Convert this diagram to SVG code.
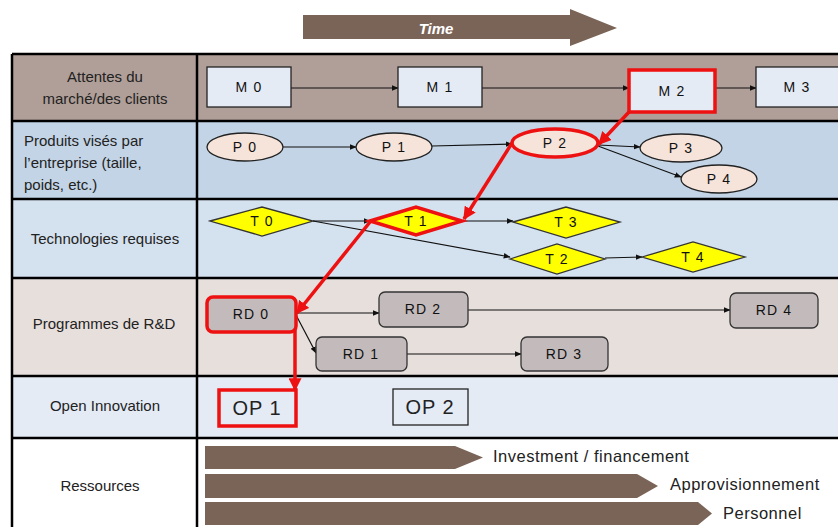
<svg xmlns="http://www.w3.org/2000/svg" width="838" height="527" viewBox="0 0 838 527">
  <defs>
    <marker id="ah" viewBox="0 0 10 10" refX="9" refY="5" markerWidth="7" markerHeight="7" orient="auto" markerUnits="userSpaceOnUse">
      <path d="M0,1 L10,5 L0,9 Z" fill="#111"/>
    </marker>
    <marker id="ahr" viewBox="0 0 10 10" refX="9" refY="5" markerWidth="13" markerHeight="13" orient="auto" markerUnits="userSpaceOnUse">
      <path d="M0,0 L10,5 L0,10 Z" fill="#ee1111"/>
    </marker>
    <style>
      .lbl { font-family: "Liberation Sans", Arial, sans-serif; font-size: 15px; fill: #222; }
      .mid { text-anchor: middle; }
      .nt { font-family: "Liberation Sans", Arial, sans-serif; font-size: 14px; fill: #111; text-anchor: middle; letter-spacing: 1.2px; }
      .grid { stroke: #000; stroke-width: 2.5; fill: none; }
      .mbox { fill: #e4ebf5; stroke: #222; stroke-width: 1.3; }
      .pell { fill: #f6e4da; stroke: #222; stroke-width: 1.3; }
      .tdia { fill: #ffff00; stroke: #333; stroke-width: 1.3; }
      .rd { fill: #c3bbbb; stroke: #333; stroke-width: 1.3; }
      .hot { stroke: #ee1111; stroke-width: 3.5; }
      .conn { stroke: #111; stroke-width: 1.2; fill: none; marker-end: url(#ah); }
      .rconn { stroke: #ee1111; stroke-width: 3.5; fill: none; marker-end: url(#ahr); }
      .res { fill: #7a6357; }
      .rtxt { font-family: "Liberation Sans", Arial, sans-serif; font-size: 16.5px; fill: #222; letter-spacing: 0.5px; }
      .op { font-family: "Liberation Sans", Arial, sans-serif; font-size: 20px; fill: #222; text-anchor: middle; letter-spacing: 1px; }
    </style>
  </defs>

  <rect width="838" height="527" fill="#ffffff"/>

  <!-- Time arrow -->
  <g id="time-arrow">
    <path d="M303,15 L570,15 L570,9 L617,28 L570,46 L570,39 L303,39 Z" fill="#7a6357"/>
    <text x="436" y="34" font-family="'Liberation Sans', Arial, sans-serif" font-size="15" font-weight="bold" font-style="italic" fill="#ffffff" text-anchor="middle">Time</text>
  </g>

  <!-- Swimlane rows -->
  <g id="lanes">
    <rect x="12" y="54" width="826" height="67" fill="#b09f98"/>
    <rect x="12" y="121" width="826" height="78" fill="#c2d4e6"/>
    <rect x="12" y="199" width="826" height="79" fill="#d4e1ee"/>
    <rect x="12" y="278" width="826" height="98" fill="#e7dfdc"/>
    <rect x="12" y="376" width="826" height="62" fill="#e4ebf5"/>
    <rect x="12" y="438" width="826" height="89" fill="#ffffff"/>
    <path class="grid" d="M12,54 H838 M12,121 H838 M12,199 H838 M12,278 H838 M12,376 H838 M12,438 H838 M12,54 V527 M197,54 V527"/>
  </g>

  <!-- Row headers -->
  <g id="row-headers">
    <text class="lbl mid" x="105" y="82">Attentes du</text>
    <text class="lbl mid" x="105" y="104">marché/des clients</text>
    <text class="lbl" x="24" y="146">Produits  visés par</text>
    <text class="lbl" x="24" y="168">l’entreprise (taille,</text>
    <text class="lbl" x="24" y="190">poids, etc.)</text>
    <text class="lbl mid" x="105" y="244">Technologies requises</text>
    <text class="lbl mid" x="104" y="329">Programmes de R&amp;D</text>
    <text class="lbl mid" x="105" y="411">Open  Innovation</text>
    <text class="lbl mid" x="100" y="491">Ressources</text>
  </g>

  <!-- Connectors -->
  <g id="connectors">
    <line class="conn" x1="291" y1="88" x2="398" y2="88"/>
    <line class="conn" x1="482" y1="88" x2="629" y2="88"/>
    <line class="conn" x1="715" y1="88" x2="756" y2="88"/>
    <line class="conn" x1="283" y1="147" x2="356" y2="147"/>
    <line class="conn" x1="432" y1="146" x2="512" y2="144"/>
    <line class="conn" x1="598" y1="145" x2="640" y2="147"/>
    <line class="conn" x1="598" y1="146" x2="681" y2="177"/>
    <line class="conn" x1="313" y1="221" x2="370" y2="221"/>
    <line class="conn" x1="462" y1="221" x2="513" y2="221"/>
    <line class="conn" x1="313" y1="221" x2="510" y2="257"/>
    <line class="conn" x1="605" y1="258" x2="642" y2="257"/>
    <line class="conn" x1="296" y1="313" x2="379" y2="313"/>
    <line class="conn" x1="296" y1="315" x2="316" y2="353"/>
    <line class="conn" x1="468" y1="310" x2="730" y2="310"/>
    <line class="conn" x1="407" y1="354" x2="521" y2="354"/>
    <!-- critical path -->
    <line class="rconn" x1="629" y1="112" x2="599" y2="144"/>
    <line class="rconn" x1="512" y1="143" x2="464" y2="219"/>
    <line class="rconn" x1="370" y1="222" x2="297" y2="313"/>
    <line class="rconn" x1="295" y1="316" x2="295" y2="390"/>
  </g>

  <!-- Market expectations -->
  <g id="M0"><rect class="mbox" x="207" y="67" width="84" height="40"/><text class="nt" x="249" y="92">M 0</text></g>
  <g id="M1"><rect class="mbox" x="398" y="67" width="84" height="40"/><text class="nt" x="440" y="92">M 1</text></g>
  <g id="M2"><rect class="mbox hot" x="629" y="70" width="86" height="42"/><text class="nt" x="672" y="96">M 2</text></g>
  <g id="M3"><rect class="mbox" x="756" y="67" width="90" height="40"/><text class="nt" x="797" y="92">M 3</text></g>

  <!-- Products -->
  <g id="P0"><ellipse class="pell" cx="245" cy="147" rx="38" ry="14"/><text class="nt" x="245" y="152">P 0</text></g>
  <g id="P1"><ellipse class="pell" cx="394" cy="147" rx="38" ry="14"/><text class="nt" x="394" y="152">P 1</text></g>
  <g id="P2"><ellipse class="pell hot" cx="555" cy="143" rx="43" ry="14"/><text class="nt" x="555" y="148">P 2</text></g>
  <g id="P3"><ellipse class="pell" cx="681" cy="148" rx="41" ry="14"/><text class="nt" x="681" y="153">P 3</text></g>
  <g id="P4"><ellipse class="pell" cx="719" cy="179" rx="38" ry="14"/><text class="nt" x="719" y="184">P 4</text></g>

  <!-- Technologies -->
  <g id="T0"><polygon class="tdia" points="210,221 262,207 313,221 262,236"/><text class="nt" x="262" y="226">T 0</text></g>
  <g id="T1"><polygon class="tdia hot" points="370,221 416,207 462,221 416,235"/><text class="nt" x="416" y="226">T 1</text></g>
  <g id="T3"><polygon class="tdia" points="513,222 566,207 620,222 566,238"/><text class="nt" x="566" y="227">T 3</text></g>
  <g id="T2"><polygon class="tdia" points="510,259 557,244 605,259 557,274"/><text class="nt" x="557" y="264">T 2</text></g>
  <g id="T4"><polygon class="tdia" points="642,257 693,242 745,257 693,272"/><text class="nt" x="693" y="262">T 4</text></g>

  <!-- R&D programmes -->
  <g id="RD0"><rect class="rd hot" x="207" y="297" width="89" height="35" rx="6"/><text class="nt" x="251" y="319">RD 0</text></g>
  <g id="RD2"><rect class="rd" x="379" y="292" width="89" height="35" rx="6"/><text class="nt" x="423" y="314">RD 2</text></g>
  <g id="RD4"><rect class="rd" x="730" y="293" width="88" height="35" rx="6"/><text class="nt" x="774" y="315">RD 4</text></g>
  <g id="RD1"><rect class="rd" x="316" y="337" width="91" height="34" rx="6"/><text class="nt" x="361" y="359">RD 1</text></g>
  <g id="RD3"><rect class="rd" x="521" y="337" width="87" height="34" rx="6"/><text class="nt" x="564" y="359">RD 3</text></g>

  <!-- Open innovation -->
  <g id="OP1"><rect x="219" y="390" width="77" height="36" fill="#e4ebf5" stroke="#ee1111" stroke-width="3.5"/><text class="op" x="257" y="415">OP 1</text></g>
  <g id="OP2"><rect x="393" y="389" width="75" height="36" fill="#e4ebf5" stroke="#222" stroke-width="1.3"/><text class="op" x="430" y="414">OP 2</text></g>

  <!-- Resources -->
  <g id="resources">
    <path class="res" d="M205,446 H455 L483,457.5 L455,469 H205 Z"/>
    <text class="rtxt" x="493" y="462">Investment / financement</text>
    <path class="res" d="M205,474 H637 L658,486 L637,498 H205 Z"/>
    <text class="rtxt" x="670" y="490">Approvisionnement</text>
    <path class="res" d="M205,502 H698 L712,513.5 L698,525 H205 Z"/>
    <text class="rtxt" x="723" y="519">Personnel</text>
  </g>
</svg>
